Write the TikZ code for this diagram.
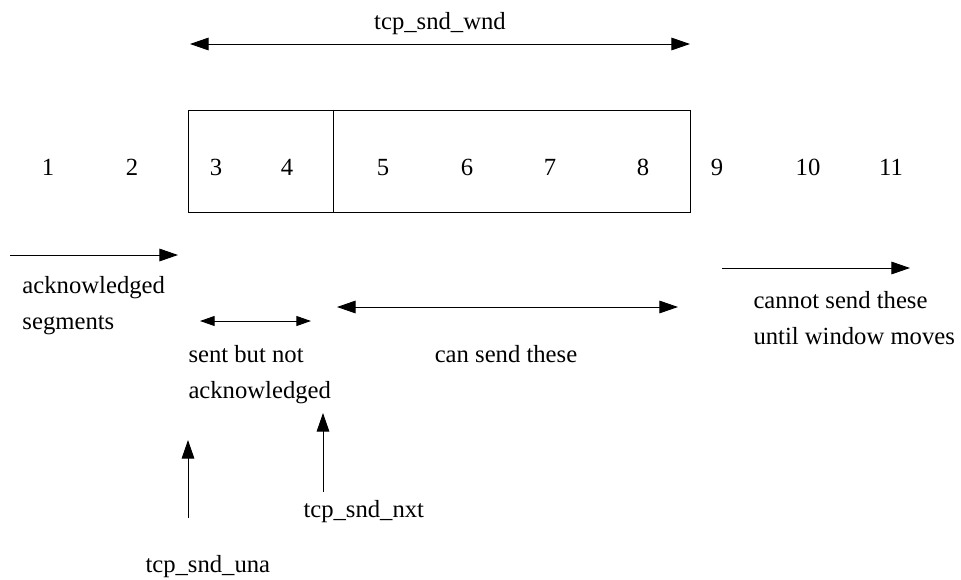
\documentclass[tikz,border=0pt]{standalone}
\usepackage{fontspec}
\setmainfont{Liberation Serif}
\usetikzlibrary{arrows.meta}

\tikzset{
	seg/.style={anchor=base, inner sep=0pt},
	lbl/.style={anchor=base west, inner sep=0pt, align=left},
	tip/.style={-{Triangle[length=14pt,width=9.5pt]}},
	both/.style={{Triangle[length=14pt,width=9.5pt]}-{Triangle[length=14pt,width=9.5pt]}},
	small both/.style={{Triangle[length=11pt,width=7.5pt]}-{Triangle[length=11pt,width=7.5pt]}},
}

\begin{document}
\begin{tikzpicture}[x=0.75pt, y=-0.75pt, line width=0.75pt, font=\fontsize{18.5}{26.5}\selectfont]
		\useasboundingbox (0,0) rectangle (961,579);

		% window
		\node (win)[draw, inner sep=0pt, minimum width=376.5pt, minimum height=76.5pt] at (439,161) {};
		\draw ([xshift=109.5pt]win.north west) -- ([xshift=109.5pt]win.south west);

		% segments
		\node (s1)[seg] at (48,175)  {1};
		\node (s2)[seg] at (132,175) {2};
		\node (s3)[seg] at (216,175) {3};
		\node (s4)[seg] at (287,175) {4};
		\node (s5)[seg] at (383,175) {5};
		\node (s6)[seg] at (467,175) {6};
		\node (s7)[seg] at (550,175) {7};
		\node (s8)[seg] at (643,175) {8};
		\node (s9)[seg] at (717,175) {9};
		\node (s10)[seg] at (808,175) {10};
		\node (s11)[seg] at (891,175) {11};

		% tcp_snd_wnd
		\coordinate (wndl) at (190,44);
		\coordinate (wndr) at (690,44);
		\draw [both](wndl)--(wndr);
		\node (wnd)[seg] at (440,29) {tcp\_snd\_wnd};

		% acknowledged
		\coordinate (ackl) at (10,255);
		\coordinate (ackr) at (178,255);
		\draw [tip](ackl)--(ackr);
		\node (ack)[lbl] at (22,329) {acknowledged\\segments};

		% sent but not acknowledged
		\coordinate (sentl) at (200,321);
		\coordinate (sentr) at (311,321);
		\draw [small both](sentl)--(sentr);
		\node (sent)[lbl] at (188,398) {sent but not\\acknowledged};

		% can send
		\coordinate (canl) at (337,307);
		\coordinate (canr) at (678,307);
		\draw [both](canl)--(canr);
		\node (can)[seg] at (506,362) {can send these};

		% cannot send
		\coordinate (notl) at (722,268);
		\coordinate (notr) at (910,268);
		\draw [tip](notl)--(notr);
		\node (cannot)[lbl] at (753,344) {cannot send these\\until window moves};

		% pointers
		\node (una)[anchor=base west, inner sep=0pt] at (145,572) {tcp\_snd\_una};
		\coordinate (unab) at (188,518);
		\coordinate (unat) at (188,440);
		\draw [tip](unab)--(unat);

		\node (nxt)[anchor=base west, inner sep=0pt] at (303,517) {tcp\_snd\_nxt};
		\coordinate (nxtb) at (323,492);
		\coordinate (nxtt) at (323,413);
		\draw [tip](nxtb)--(nxtt);
	\end{tikzpicture}
\end{document}
